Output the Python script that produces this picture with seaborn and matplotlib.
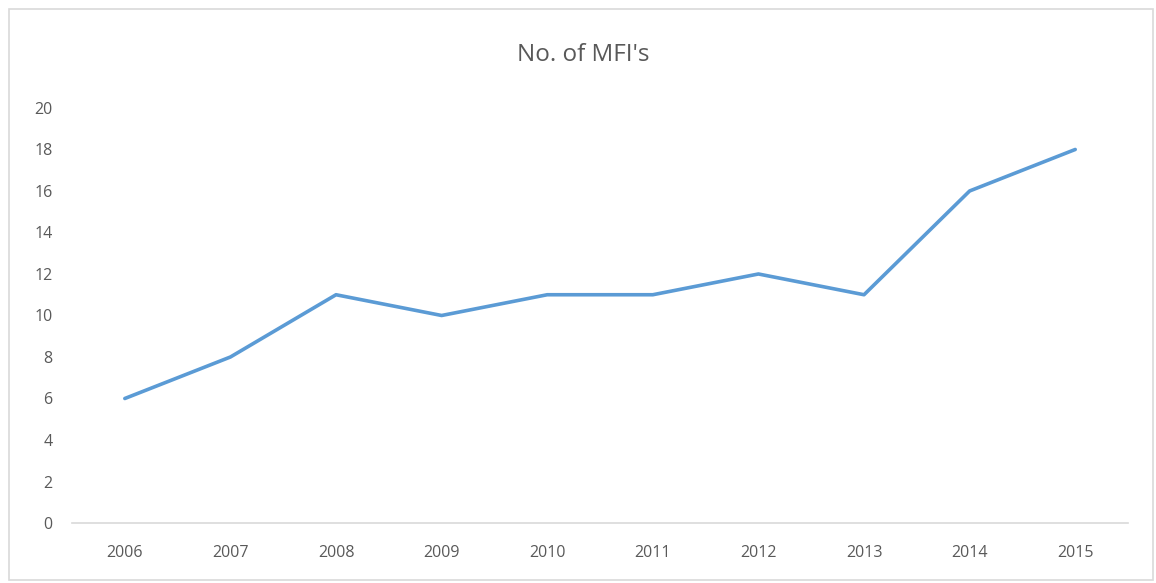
import matplotlib
matplotlib.use("Agg")
import matplotlib.pyplot as plt
import seaborn as sns
import pandas as pd
from matplotlib.patches import Rectangle

years = ["2006", "2007", "2008", "2009", "2010", "2011", "2012", "2013", "2014", "2015"]
mfis = [6, 8, 11, 10, 11, 11, 12, 11, 16, 18]
y_ticks = [0, 2, 4, 6, 8, 10, 12, 14, 16, 18, 20]

sns.set_theme(style="white")
plt.rcParams['font.family'] = ['Open Sans', 'DejaVu Sans']

df = pd.DataFrame({"Year": years, "MFIs": mfis})

fig = plt.figure(figsize=(11.56, 5.83), dpi=100)
ax = fig.add_axes([0.0623, 0.1029, 0.9135, 0.7119])

sns.lineplot(data=df, x="Year", y="MFIs", ax=ax, color="#5B9BD5", linewidth=2.6,
             sort=False)

ax.set_xlim(-0.5, len(years) - 0.5)
ax.set_ylim(0, 20)
ax.set_yticks(y_ticks)
ax.set_xlabel("")
ax.set_ylabel("")
for s in ["top", "right", "left"]:
    ax.spines[s].set_visible(False)
ax.spines["bottom"].set_color("#D9D9D9")
ax.spines["bottom"].set_linewidth(1.2)
ax.tick_params(axis="both", colors="#595959", labelsize=11.5, length=0)
ax.tick_params(axis="x", pad=16)
ax.tick_params(axis="y", pad=14)

fig.text(0.5045, 0.905, "No. of MFI's", ha="center", va="center",
         fontsize=17.5, color="#595959")

fig.patches.append(Rectangle((9 / 1156, 3 / 583), 1144 / 1156, 571 / 583,
                             transform=fig.transFigure, fill=False,
                             edgecolor="#D9D9D9", linewidth=1.2))

fig.savefig("out.png", dpi=100)
